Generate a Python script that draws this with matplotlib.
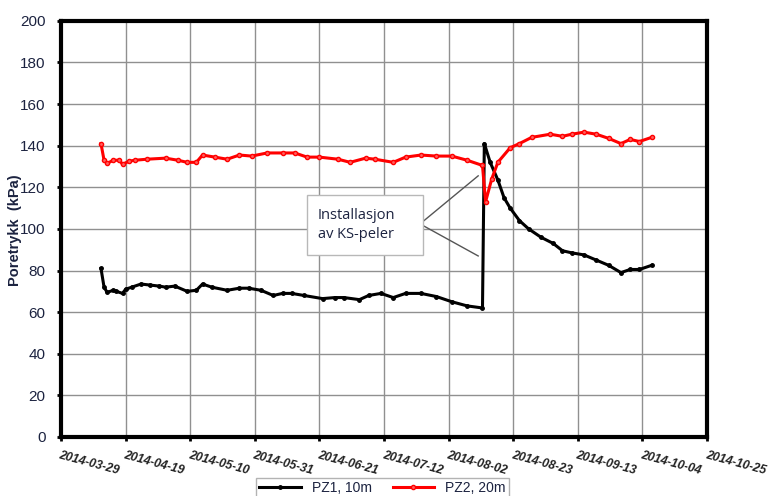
import matplotlib
matplotlib.use('Agg')
import matplotlib.pyplot as plt
import matplotlib.dates as mdates
from matplotlib.patches import Rectangle
import datetime as dt

# readings (days after 2014-03-29, kPa)
pz1_days = [13, 14, 15, 17, 18, 20, 21, 23, 26, 29, 32, 34, 37, 41, 44, 46, 49,
            54, 58, 61, 65, 69, 72, 75, 79, 85, 89, 92, 97, 100, 104, 108, 112,
            117, 122, 127, 132, 137, 137.6, 139.5, 142, 144, 146, 149, 152, 156,
            160, 163, 166, 170, 174, 178, 182, 185, 188, 192]
pz1_vals = [81, 72, 69.5, 70.5, 70, 69, 71, 72, 73.5, 73, 72.5, 72, 72.5, 70,
            70.5, 73.5, 72, 70.5, 71.5, 71.5, 70.5, 68, 69, 69, 68, 66.5, 67, 67,
            66, 68, 69, 67, 69, 69, 67.5, 65, 63, 62, 141, 132, 123.5, 115, 110,
            104, 100, 96, 93, 89.5, 88.5, 87.5, 85, 82.5, 79, 80.5, 80.5, 82.5]

pz2_days = [13, 14, 15, 17, 19, 20, 22, 24, 28, 34, 38, 41, 44, 46, 50, 54, 58,
            62, 67, 72, 76, 80, 84, 90, 94, 99, 102, 108, 112, 117, 122, 127,
            132, 137, 138, 140, 142, 146, 149, 153, 159, 163, 166, 170, 174,
            178, 182, 185, 188, 192]
pz2_vals = [141, 133, 131.5, 133, 133, 131, 132.5, 133, 133.5, 134, 133, 132,
            132, 135.5, 134.5, 133.5, 135.5, 135, 136.5, 136.5, 136.5, 134.5,
            134.5, 133.5, 132, 134, 133.5, 132, 134.5, 135.5, 135, 135, 133,
            130.5, 113, 124, 132, 139, 141, 144, 145.5, 144.5, 145.5, 146.5,
            145.5, 143.5, 141, 143, 142, 144]

start = dt.datetime(2014, 3, 29)
x1 = [start + dt.timedelta(days=d) for d in pz1_days]
x2 = [start + dt.timedelta(days=d) for d in pz2_days]
xticks = [start + dt.timedelta(days=21 * i) for i in range(11)]

navy = '#1c2340'

fig = plt.figure(figsize=(7.71, 4.96), dpi=100)
ax = fig.add_axes([0.0791, 0.119, 0.838, 0.839])

ax.plot(x1, pz1_vals, color='black', lw=2.2, marker='o', ms=2.5, label='PZ1, 10m')
ax.plot(x2, pz2_vals, color='red', lw=2.2, marker='o', ms=3, mfc='#ff6060', label='PZ2, 20m')

ax.set_xlim(xticks[0], xticks[-1])
ax.set_ylim(0, 200)
ax.set_yticks(range(0, 201, 20))
ax.set_xticks(xticks)
ax.xaxis.set_major_formatter(mdates.DateFormatter('%Y-%m-%d'))
ax.grid(True, color='#909090', lw=1)
ax.set_axisbelow(True)

for s in ax.spines.values():
    s.set_linewidth(3)
ax.tick_params(axis='both', length=3, width=2, direction='out', colors='black')
ax.tick_params(axis='y', pad=8)
ax.tick_params(axis='x', pad=6)
for lbl in ax.get_yticklabels():
    lbl.set_fontsize(11)
    lbl.set_color(navy)
    lbl.set_family('Liberation Sans')
for lbl in ax.get_xticklabels():
    lbl.set_fontsize(8.7)
    lbl.set_style('italic')
    lbl.set_weight('bold')
    lbl.set_color('#222222')
    lbl.set_family('Liberation Sans')
    lbl.set_rotation(-15)
    lbl.set_rotation_mode('anchor')
    lbl.set_ha('left')
    lbl.set_va('top')

fig.text(0.019, 0.536, 'Poretrykk  (kPa)', rotation=90, fontsize=10.5,
         fontweight='bold', color=navy, family='Liberation Sans',
         ha='center', va='center')

# annotation box and pointer lines
tip1 = (start + dt.timedelta(days=135.6), 125.5)
tip2 = (start + dt.timedelta(days=135.6), 87)
base = (start + dt.timedelta(days=116.7), 102.4)
ax.plot([base[0], tip1[0]], [base[1], tip1[1]], color='#555555', lw=1)
ax.plot([base[0], tip2[0]], [base[1], tip2[1]], color='#555555', lw=1)
fig.patches.append(Rectangle((307 / 771, 1 - 255 / 496), 116 / 771, 60 / 496,
                             transform=fig.transFigure, fc='white',
                             ec='#b8b8b8', lw=1, zorder=5))
fig.text(318 / 771, 1 - 225 / 496, 'Installasjon\nav KS-peler', fontsize=10.5,
         color=navy, family='Open Sans', ha='left', va='center',
         linespacing=1.35, zorder=6)

fig.legend(loc='upper center', bbox_to_anchor=(0.496, 0.05), ncol=2,
           frameon=True, fancybox=False, edgecolor='#a0a0a0',
           prop={'family': 'Liberation Sans', 'size': 10}, handlelength=3,
           borderpad=0.2, columnspacing=1.5, labelcolor=navy)

fig.savefig('out.png', dpi=100)
